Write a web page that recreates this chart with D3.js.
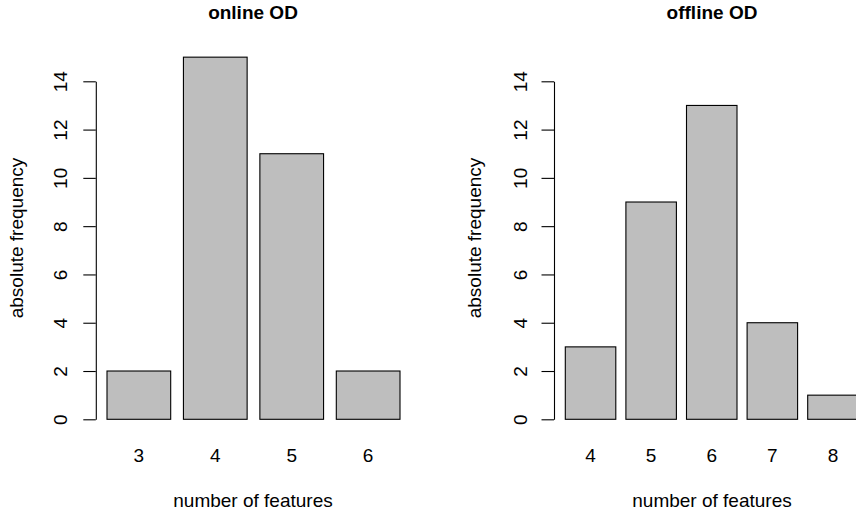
<!DOCTYPE html>
<html>
<head>
<meta charset="utf-8">
<script src="https://cdn.jsdelivr.net/npm/d3@7"></script>
<style>
  html, body { margin: 0; padding: 0; background: #fff; }
  svg { display: block; font-family: "Liberation Sans", Arial, Helvetica, sans-serif; }
</style>
</head>
<body>
<svg id="chart" width="856" height="512"></svg>
<script>
// ---- data ----
const onlineCategories = ["3", "4", "5", "6"];
const onlineValues = [2, 15, 11, 2];
const offlineCategories = ["4", "5", "6", "7", "8"];
const offlineValues = [3, 9, 13, 4, 1];
const yTicks = [0, 2, 4, 6, 8, 10, 12, 14];
const titles = ["online OD", "offline OD"];
const xLabel = "number of features";
const yLabel = "absolute frequency";

const svg = d3.select("#chart");
const FS = 19;

const panels = [
  { cats: onlineCategories, vals: onlineValues, title: titles[0],
    xRange: [107, 400.0], axisX: 95.8, labelX: 67, yTitleX: 23, center: 253 },
  { cats: offlineCategories, vals: offlineValues, title: titles[1],
    xRange: [565.3, 858.2], axisX: 554, labelX: 527.3, yTitleX: 481, center: 712 }
];

const y = d3.scaleLinear().domain([0, 14]).range([419.3, 81.3]);

panels.forEach(p => {
  const n = p.cats.length;
  const space = 0.2, w = 1;
  const x = d3.scaleLinear().domain([space, n * (w + space)]).range(p.xRange);
  const g = svg.append("g");

  // bars
  g.selectAll("rect").data(p.vals).enter().append("rect")
    .attr("x", (d, i) => x(space + i * (w + space)))
    .attr("width", (d, i) => x(space + i * (w + space) + w) - x(space + i * (w + space)))
    .attr("y", d => y(d))
    .attr("height", d => y(0) - y(d))
    .attr("fill", "#bebebe")
    .attr("stroke", "#000")
    .attr("stroke-width", 1.1);

  // y axis
  const ax = g.append("g")
    .attr("transform", `translate(${p.axisX},0)`)
    .call(d3.axisLeft(y).tickValues(yTicks).tickSize(12.5).tickSizeOuter(0).tickFormat(d3.format("d")));
  ax.select(".domain").attr("stroke", "#000").attr("stroke-width", 1.1);
  ax.selectAll(".tick line").attr("stroke", "#000").attr("stroke-width", 1.1);
  ax.selectAll(".tick text")
    .attr("x", null).attr("dy", null)
    .attr("transform", `translate(${p.labelX - p.axisX},0) rotate(-90)`)
    .attr("text-anchor", "middle")
    .attr("fill", "#000")
    .style("font-size", FS + "px")
    .style("font-family", '"Liberation Sans", Arial, sans-serif');

  // x category labels
  g.selectAll("text.cat").data(p.cats).enter().append("text")
    .attr("class", "cat")
    .attr("x", (d, i) => x(space + i * (w + space) + w / 2))
    .attr("y", 461.7)
    .attr("text-anchor", "middle")
    .style("font-size", FS + "px")
    .text(d => d);

  // title
  g.append("text")
    .attr("x", p.center).attr("y", 18.5)
    .attr("text-anchor", "middle")
    .style("font-size", FS + "px").style("font-weight", "bold")
    .text(p.title);

  // x label
  g.append("text")
    .attr("x", p.center).attr("y", 506.7)
    .attr("text-anchor", "middle")
    .style("font-size", FS + "px")
    .text(xLabel);

  // y label
  g.append("text")
    .attr("transform", `translate(${p.yTitleX},238) rotate(-90)`)
    .attr("text-anchor", "middle")
    .style("font-size", FS + "px")
    .text(yLabel);
});
</script>
</body>
</html>
